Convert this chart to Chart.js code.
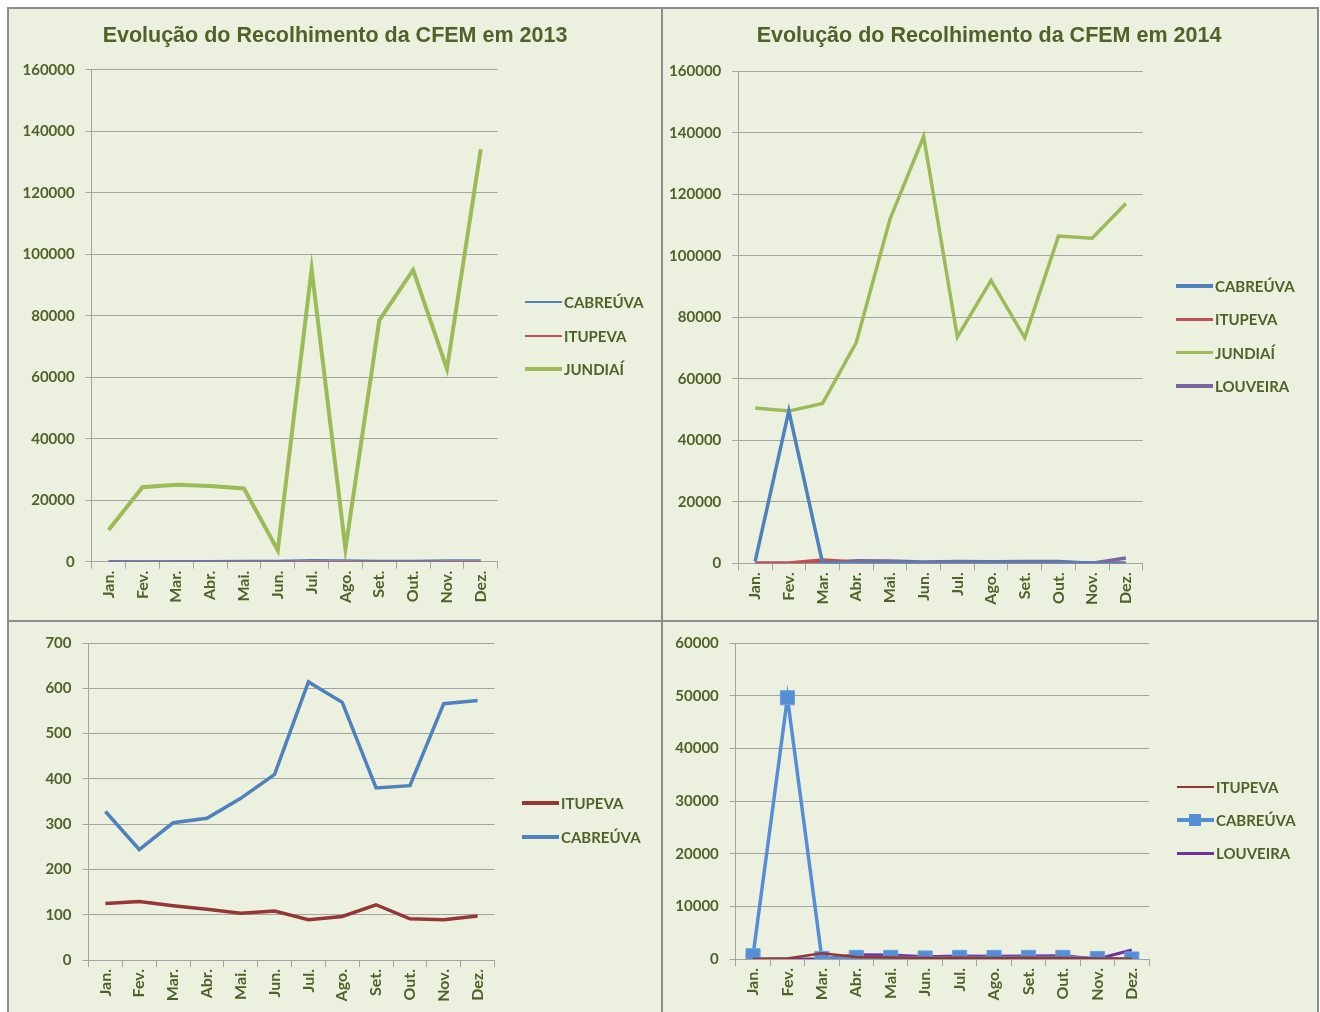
<!DOCTYPE html>
<html>
<head>
<meta charset="utf-8">
<script src="https://cdn.jsdelivr.net/npm/chart.js@4.4.1/dist/chart.umd.min.js"></script>
<style>
  body { margin: 0; background: #fff; width: 1320px; height: 1012px; overflow: hidden; position: relative; }
  #frame { position: absolute; left: 7px; top: 7px; width: 1308px; height: 1020px; border: 2px solid #8c8c8c; background: #ebf1de; }
  .div-v { position: absolute; left: 661px; top: 7px; width: 2px; height: 1020px; background: #8c8c8c; }
  .div-h { position: absolute; left: 7px; top: 620px; width: 1310px; height: 2px; background: #8c8c8c; }
  canvas { position: absolute; }
  .leg { position: absolute; font: bold 15px Lato, sans-serif; color: #4f6228; white-space: nowrap; }
  .leg .ln { position: absolute; left: 0; width: 37px; }
  .leg .mk { position: absolute; width: 12px; height: 12px; left: 12px; }
  .leg .tx { position: absolute; top: -10px; line-height: 20px; }
</style>
</head>
<body>
<div id="frame"></div>
<div class="div-v"></div>
<div class="div-h"></div>
<canvas id="c1" width="650" height="610" style="left:10px;top:10px"></canvas>
<canvas id="c2" width="650" height="610" style="left:664px;top:10px"></canvas>
<canvas id="c3" width="650" height="389" style="left:10px;top:623px"></canvas>
<canvas id="c4" width="650" height="389" style="left:664px;top:623px"></canvas>
<script>
const months = ['Jan.', 'Fev.', 'Mar.', 'Abr.', 'Mai.', 'Jun.', 'Jul.', 'Ago.', 'Set.', 'Out.', 'Nov.', 'Dez.']

// 2013
const jundiai2013 = [10300, 24200, 25000, 24600, 23800, 3700, 95200, 4200, 78500, 94900, 62700, 134200]
const cabreuva2013 = [328, 244, 303, 313, 357, 410, 614, 569, 380, 385, 566, 573]
const itupeva2013 = [125, 129, 120, 112, 103, 108, 89, 96, 122, 91, 89, 97]

// 2014
const jundiai2014 = [50500, 49500, 52000, 71800, 111900, 138800, 73600, 92000, 73300, 106400, 105700, 117000]
const cabreuva2014 = [600, 49600, 100, 300, 300, 200, 300, 300, 300, 300, 100, 0]
const itupeva2014 = [0, 100, 1100, 400, 300, 200, 250, 200, 250, 200, 100, 50]
const louveira2014 = [0, 0, 0, 800, 750, 450, 550, 500, 550, 600, 0, 1700]

const textColor = '#4f6228'
const gridColor = '#a3a3a3'
const yFont = { family: 'Lato, sans-serif', size: 15, weight: 'bold' }
const xFont = { family: 'Lato, sans-serif', size: 16, weight: 'bold' }

function line(label, data, color, width, extra) {
    return Object.assign({
        label: label,
        data: data,
        borderColor: color,
        backgroundColor: color,
        borderWidth: width,
        pointRadius: 0,
        tension: 0,
        fill: false,
    }, extra || {})
}

function makeChart(id, cfg) {
    const plugins = { legend: { display: false }, tooltip: { enabled: false } }
    if (cfg.title) {
        plugins.title = {
            display: true,
            text: cfg.title,
            color: textColor,
            font: { family: '"Liberation Sans", Arial, sans-serif', size: 21.5, weight: 'bold' },
            padding: { top: 13, bottom: cfg.titleGap },
        }
    }
    return new Chart(document.getElementById(id), {
        type: 'line',
        data: { labels: months, datasets: cfg.datasets },
        options: {
            responsive: false,
            animation: false,
            devicePixelRatio: 1,
            layout: { padding: { left: 0, right: 0, top: cfg.top || 0, bottom: 0 } },
            plugins: plugins,
            scales: {
                x: {
                    offset: true,
                    grid: { display: true, drawOnChartArea: false, offset: true, tickLength: 7, color: gridColor },
                    border: { display: true, color: gridColor },
                    ticks: { color: textColor, font: xFont, autoSkip: false, minRotation: 90, maxRotation: 90, padding: 2 },
                    afterFit: s => { s.height = cfg.xHeight },
                },
                y: {
                    min: 0,
                    max: cfg.max,
                    grid: { color: gridColor, tickLength: 6 },
                    border: { display: true, color: gridColor },
                    ticks: { color: textColor, font: yFont, stepSize: cfg.step, padding: 11, callback: v => String(v) },
                    afterFit: s => { s.width = cfg.yWidth },
                },
                // empty right-hand box that keeps room for the legend
                side: {
                    position: 'right',
                    grid: { display: false },
                    border: { display: false },
                    ticks: { display: false },
                    afterFit: s => { s.width = cfg.right },
                },
            },
        },
    })
}

function legend(chart, x, y, gap, markers) {
    const box = document.createElement('div')
    box.className = 'leg'
    box.style.left = x + 'px'
    box.style.top = y + 'px'
    chart.data.datasets.forEach((ds, i) => {
        const ln = document.createElement('div')
        ln.className = 'ln'
        ln.style.top = (i * gap - Math.max(ds.borderWidth, 2) / 2) + 'px'
        ln.style.height = Math.max(ds.borderWidth, 2) + 'px'
        ln.style.background = ds.borderColor
        box.appendChild(ln)
        if (markers && ds.pointRadius > 0) {
            const mk = document.createElement('div')
            mk.className = 'mk'
            mk.style.top = (i * gap - 6) + 'px'
            mk.style.background = ds.backgroundColor
            box.appendChild(mk)
        }
        const tx = document.createElement('div')
        tx.className = 'tx'
        tx.style.left = '39px'
        tx.style.top = (i * gap - 10) + 'px'
        tx.textContent = ds.label
        box.appendChild(tx)
    })
    document.body.appendChild(box)
}

const ch1 = makeChart('c1', {
    title: 'Evolução do Recolhimento da CFEM em 2013', titleGap: 21,
    max: 160000, step: 20000, yWidth: 81.7, right: 162.3, xHeight: 58.3,
    datasets: [
        line('CABREÚVA', cabreuva2013, '#4f81bd', 1.5),
        line('ITUPEVA', itupeva2013, '#c0504d', 1.5),
        line('JUNDIAÍ', jundiai2013, '#9bbb59', 4),
    ],
})
const ch2 = makeChart('c2', {
    title: 'Evolução do Recolhimento da CFEM em 2014', titleGap: 22.5,
    max: 160000, step: 20000, yWidth: 74.3, right: 171.3, xHeight: 56.7,
    datasets: [
        line('CABREÚVA', cabreuva2014, '#4f81bd', 3.5),
        line('ITUPEVA', itupeva2014, '#c0504d', 3.5),
        line('JUNDIAÍ', jundiai2014, '#9bbb59', 3.5),
        line('LOUVEIRA', louveira2014, '#8064a2', 3.5),
    ],
})
const ch3 = makeChart('c3', {
    top: 19, max: 700, step: 100, yWidth: 78.5, right: 165.5, xHeight: 52,
    datasets: [
        line('ITUPEVA', itupeva2013, '#953735', 3.5),
        line('CABREÚVA', cabreuva2013, '#4f81bd', 3.5),
    ],
})
const ch4 = makeChart('c4', {
    top: 19, max: 60000, step: 10000, yWidth: 71.8, right: 165, xHeight: 53,
    datasets: [
        line('ITUPEVA', itupeva2014, '#953735', 2.5),
        line('CABREÚVA', cabreuva2014, '#558ed5', 3.5, { pointStyle: 'rect', pointRadius: 10, pointBorderColor: '#6a9fe0', pointBorderWidth: 1 }),
        line('LOUVEIRA', louveira2014, '#7030a0', 3),
    ],
})

legend(ch1, 525, 302, 33.5)
legend(ch2, 1176, 286, 33.3)
legend(ch3, 522, 803, 34)
legend(ch4, 1177, 787, 33, true)
</script>
</body>
</html>
